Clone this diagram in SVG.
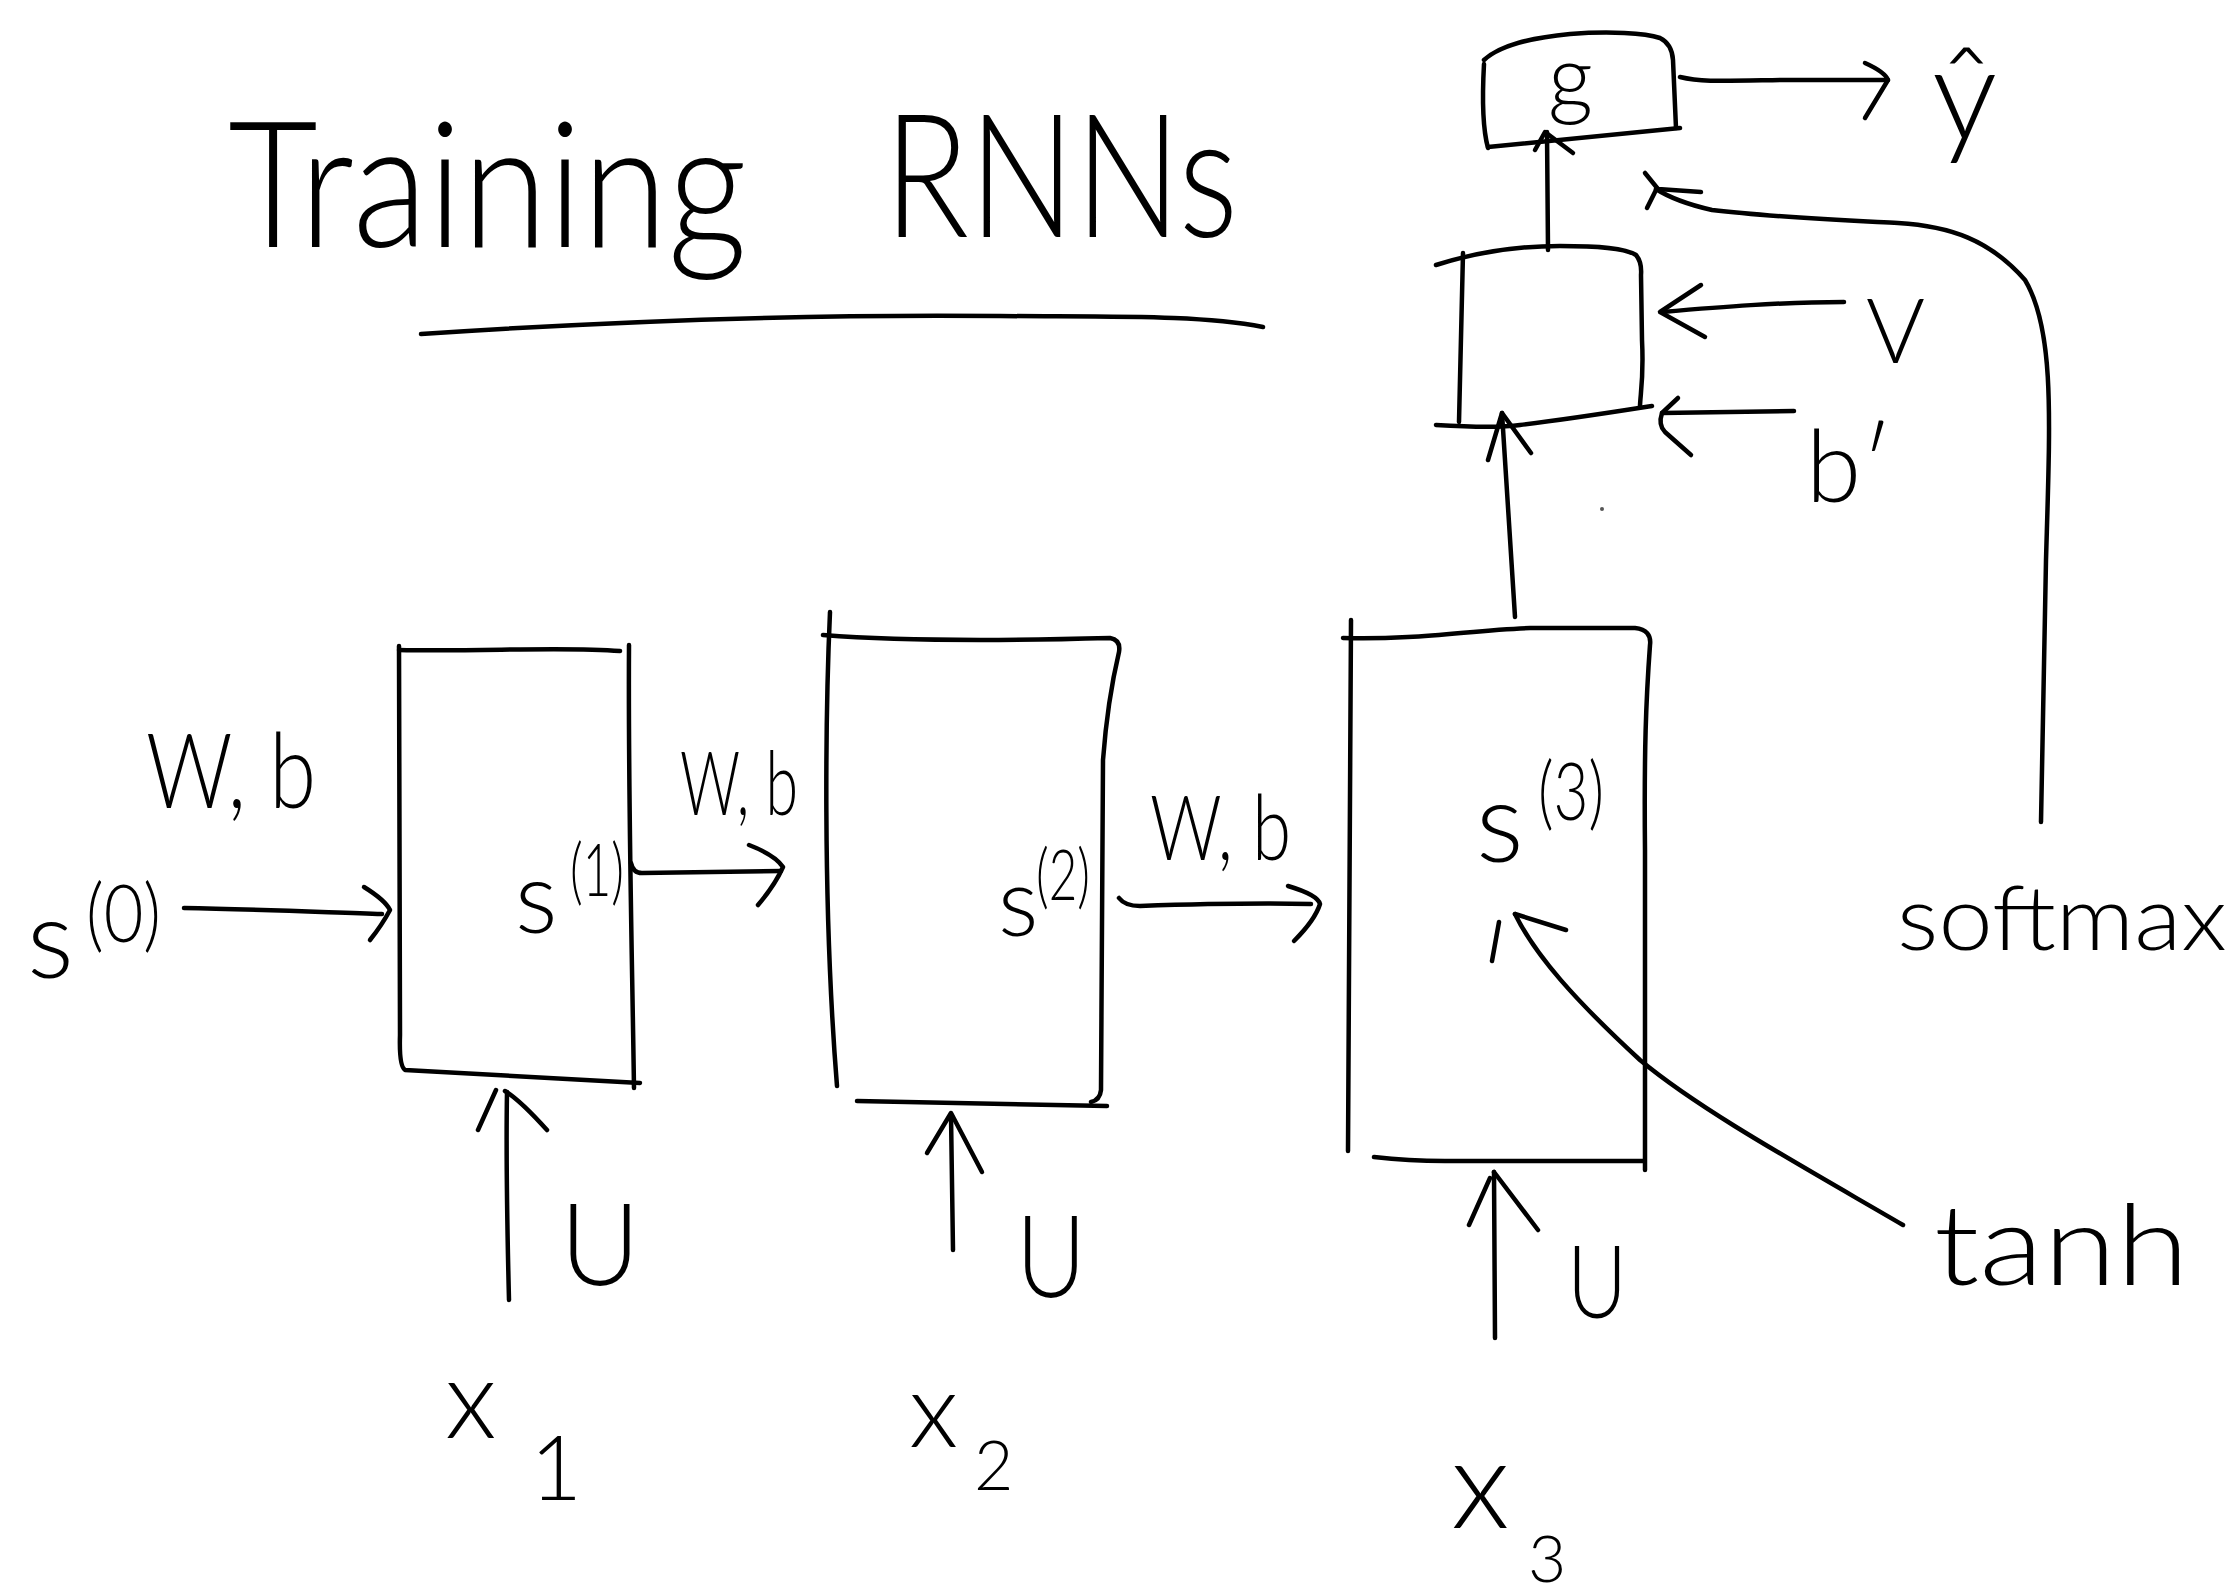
<svg xmlns="http://www.w3.org/2000/svg" width="2230" height="1595" viewBox="0 0 2230 1595">
  <style>
    .ink { fill: none; stroke: #000; stroke-width: 4.5; stroke-linecap: round; stroke-linejoin: round; }
    .txt { font-family: "Lato", "Open Sans", "Liberation Sans", sans-serif; font-weight: 300; fill: #000; }
  </style>

  <rect x="0" y="0" width="2230" height="1595" fill="#fff"/>

  <!-- title -->
  <g id="title">
    <text class="txt" x="228" y="247" font-size="175" textLength="519" lengthAdjust="spacingAndGlyphs">Training</text>
    <text class="txt" x="884" y="237" font-size="172" textLength="354" lengthAdjust="spacingAndGlyphs">RNNs</text>
    <path class="ink" d="M421,334 C600,322 800,314 1000,316 C1120,317 1200,315 1263,327"/>
  </g>

  <!-- recurrent cells -->
  <g id="cell-1">
    <path class="ink" d="M399,650 C480,652 560,646 620,651"/>
    <path class="ink" d="M399,646 L400,1035 Q399,1066 405,1070 L640,1083"/>
    <path class="ink" d="M629,645 C628,800 632,950 634,1088"/>
    <text class="txt" x="515" y="933" font-size="100">s</text>
    <text class="txt" x="570" y="896" font-size="72" textLength="54" lengthAdjust="spacingAndGlyphs">(1)</text>
  </g>

  <g id="cell-2">
    <path class="ink" d="M830,612 C826,700 822,900 837,1086"/>
    <path class="ink" d="M823,635 C900,641 1000,641 1110,638 Q1121,640 1119,652 C1110,690 1106,720 1103,760 L1101,1090 Q1100,1100 1091,1102"/>
    <path class="ink" d="M857,1101 L1107,1106"/>
    <text class="txt" x="998" y="936" font-size="95">s</text>
    <text class="txt" x="1036" y="900" font-size="70" textLength="54" lengthAdjust="spacingAndGlyphs">(2)</text>
  </g>

  <g id="cell-3">
    <path class="ink" d="M1351,620 L1348,1151"/>
    <path class="ink" d="M1343,638 C1420,640 1470,630 1530,628 L1635,628 Q1652,630 1650,645 C1646,700 1644,750 1645,850 L1645,1170"/>
    <path class="ink" d="M1374,1157 C1400,1160 1420,1161 1445,1161 L1643,1161"/>
    <text class="txt" x="1476" y="862" font-size="112">s</text>
    <text class="txt" x="1538" y="820" font-size="80" textLength="66" lengthAdjust="spacingAndGlyphs">(3)</text>
  </g>

  <!-- output layer -->
  <g id="output-cell">
    <path class="ink" d="M1436,265 C1480,251 1520,246 1560,246 C1600,246 1625,248 1636,255 Q1642,262 1641,275 L1642,340 C1644,380 1640,395 1640,407"/>
    <path class="ink" d="M1463,253 L1459,422"/>
    <path class="ink" d="M1436,425 C1470,427 1500,428 1520,425 C1570,419 1620,411 1652,406"/>
  </g>

  <g id="g-cell">
    <path class="ink" d="M1484,60 C1500,45 1530,38 1570,34 C1610,31 1645,33 1660,38 Q1672,44 1673,60 L1676,128"/>
    <path class="ink" d="M1484,64 C1482,100 1483,130 1488,148"/>
    <path class="ink" d="M1488,147 L1680,128"/>
    <text class="txt" x="1548" y="108" font-size="88">g</text>
  </g>

  <!-- labels -->
  <g id="s0">
    <text class="txt" x="27" y="978" font-size="110">s</text>
    <text class="txt" x="86" y="942" font-size="80" textLength="75" lengthAdjust="spacingAndGlyphs">(0)</text>
  </g>
  <g id="wb-1"><text class="txt" x="146" y="808" font-size="105" textLength="170" lengthAdjust="spacingAndGlyphs">W, b</text></g>
  <g id="wb-2"><text class="txt" x="680" y="815" font-size="88" textLength="118" lengthAdjust="spacingAndGlyphs">W, b</text></g>
  <g id="wb-3"><text class="txt" x="1150" y="860" font-size="90" textLength="141" lengthAdjust="spacingAndGlyphs">W, b</text></g>

  <g id="u-1"><text class="txt" x="560" y="1285" font-size="115" textLength="80" lengthAdjust="spacingAndGlyphs">U</text></g>
  <g id="u-2"><text class="txt" x="1016" y="1297" font-size="115" textLength="70" lengthAdjust="spacingAndGlyphs">U</text></g>
  <g id="u-3"><text class="txt" x="1567" y="1318" font-size="100" textLength="60" lengthAdjust="spacingAndGlyphs">U</text></g>

  <g id="x-1">
    <text class="txt" x="445" y="1438" font-size="110">x</text>
    <text class="txt" x="530" y="1500" font-size="90">1</text>
  </g>
  <g id="x-2">
    <text class="txt" x="909" y="1447" font-size="105">x</text>
    <text class="txt" x="974" y="1490" font-size="68">2</text>
  </g>
  <g id="x-3">
    <text class="txt" x="1451" y="1528" font-size="125">x</text>
    <text class="txt" x="1528" y="1582" font-size="66">3</text>
  </g>

  <g id="v-label"><text class="txt" x="1866" y="363" font-size="90">V</text></g>
  <g id="b-prime"><text class="txt" x="1806" y="502" font-size="100">b′</text></g>
  <g id="y-hat"><text class="txt" x="1932" y="140" font-size="130">ŷ</text></g>
  <g id="softmax"><text class="txt" x="1897" y="950" font-size="90" textLength="330" lengthAdjust="spacingAndGlyphs">softmax</text></g>
  <g id="tanh"><text class="txt" x="1934" y="1285" font-size="112" textLength="255" lengthAdjust="spacingAndGlyphs">tanh</text></g>

  <!-- connectors -->
  <g id="connectors" class="ink">
    <!-- s(0) into cell 1 -->
    <path d="M184,908 C250,909 320,912 382,914"/>
    <path d="M364,887 Q385,900 390,910 Q382,925 370,940"/>
    <!-- cell 1 to cell 2 -->
    <path d="M631,863 Q633,873 642,873 L781,871"/>
    <path d="M749,845 Q775,855 783,867 Q775,885 758,905"/>
    <!-- cell 2 to cell 3 -->
    <path d="M1119,898 Q1125,906 1140,906 C1200,904 1260,903 1311,904"/>
    <path d="M1288,886 Q1318,895 1320,904 Q1315,920 1294,941"/>
    <!-- inputs -->
    <path d="M509,1300 C507,1220 506,1150 507,1092"/>
    <path d="M478,1130 L496,1090 M505,1091 Q520,1100 547,1130"/>
    <path d="M953,1250 L951,1115"/>
    <path d="M927,1153 L951,1113 L982,1172"/>
    <path d="M1495,1338 L1494,1172"/>
    <path d="M1469,1225 L1490,1178 M1494,1172 L1538,1230"/>
    <!-- cell 3 up to output layer -->
    <path d="M1515,617 L1502,413"/>
    <path d="M1488,460 L1502,413 L1531,453"/>
    <!-- output layer up to g -->
    <path d="M1548,250 L1547,132"/>
    <path d="M1535,150 L1545,132 L1573,153"/>
    <!-- g to y-hat -->
    <path d="M1680,77 C1700,82 1720,81 1780,80 L1888,80"/>
    <path d="M1865,63 Q1885,72 1888,80 L1865,118"/>
    <!-- V and b' into output layer -->
    <path d="M1844,302 C1780,302 1720,307 1662,312"/>
    <path d="M1701,285 L1660,312 L1705,337"/>
    <path d="M1794,411 L1662,413"/>
    <path d="M1678,398 L1662,413 Q1658,425 1665,432 L1691,455"/>
    <!-- softmax to g -->
    <path d="M2041,822 L2046,560 C2050,420 2055,330 2025,280 C1990,240 1950,226 1898,223 C1840,220 1770,217 1712,210 C1690,205 1670,198 1656,189"/>
    <path d="M1645,173 L1658,189 L1701,192 M1656,190 L1647,208"/>
    <!-- tanh to s(3) -->
    <path d="M1903,1225 C1800,1165 1700,1110 1640,1060 C1575,1000 1535,955 1515,914"/>
    <path d="M1566,930 L1515,914 M1492,961 L1499,922"/>
  </g>
  <circle cx="1602" cy="509" r="2" fill="#555"/>
</svg>
